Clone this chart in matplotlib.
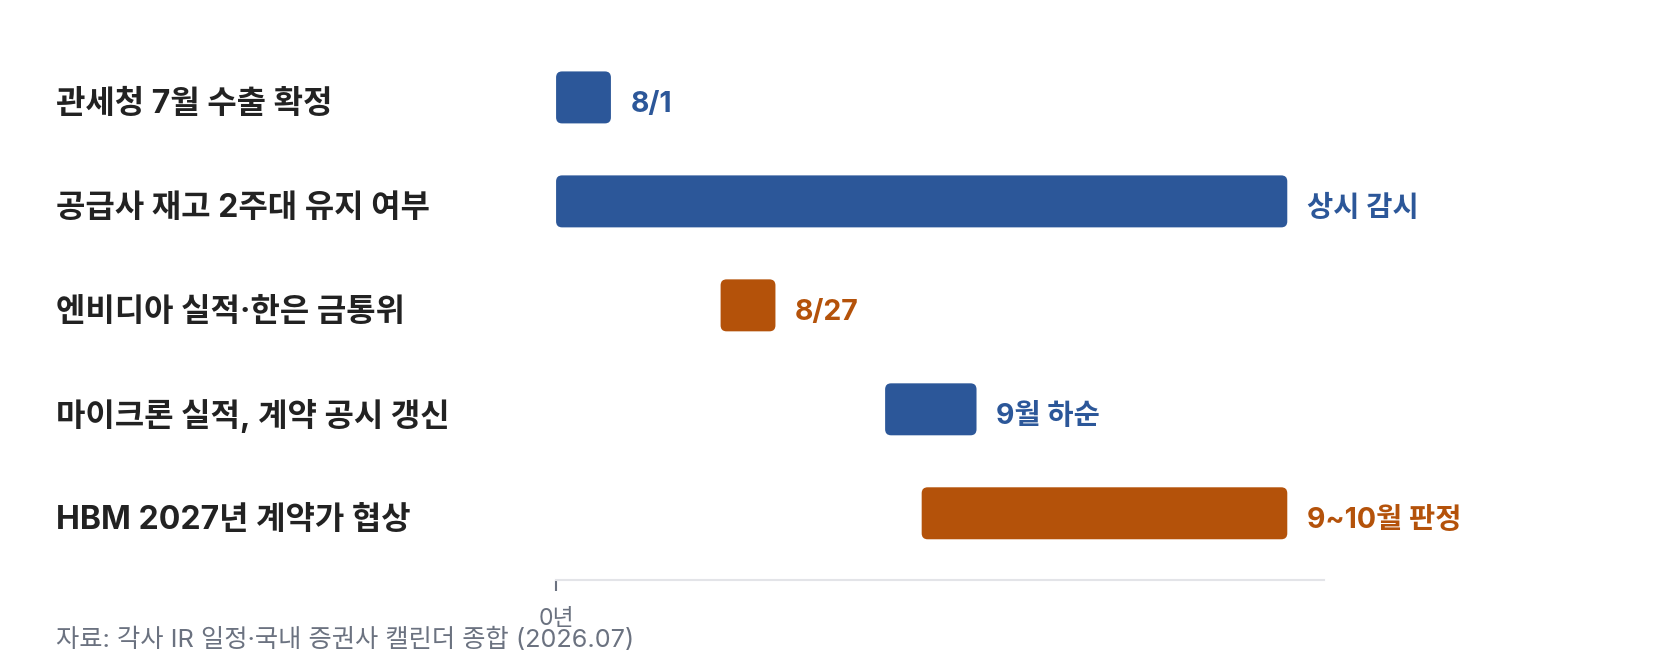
import matplotlib
matplotlib.use("Agg")
import matplotlib.pyplot as plt
from matplotlib.patches import FancyBboxPatch
import matplotlib.transforms as mtransforms

plt.rcParams['font.family'] = ['Inter', 'Noto Sans CJK KR', 'DejaVu Sans']

# ---- data ----
tasks = ["관세청 7월 수출 확정", "공급사 재고 2주대 유지 여부", "엔비디아 실적·한은 금통위",
         "마이크론 실적, 계약 공시 갱신", "HBM 2027년 계약가 협상"]
starts = [0, 0, 22.5, 45, 50]
durations = [7.5, 100, 7.5, 12.5, 50]
value_labels = ["8/1", "상시 감시", "8/27", "9월 하순", "9~10월 판정"]
groups = ["blue", "blue", "orange", "blue", "orange"]
x_ticks = [0]
x_tick_labels = ["0년"]
source = "자료: 각사 IR 일정·국내 증권사 캘린더 종합 (2026.07)"

colors = {"blue": "#2c5799", "orange": "#b4520a"}

fig = plt.figure(figsize=(16.8, 6.68), dpi=100)
ax = fig.add_axes([0.331, 0.132, 0.457, 0.800])

ypos = list(range(len(tasks)))
bars = ax.barh(ypos, durations, left=starts, height=0.5,
               color=[colors[g] for g in groups])

ax.set_xlim(0, max(s + d for s, d in zip(starts, durations)) * 1.05)
ax.set_ylim(4.64, -0.5)

# rounded corners
fig.canvas.draw()
xr = ax.get_xlim()[1] - ax.get_xlim()[0]
yr = abs(ax.get_ylim()[0] - ax.get_ylim()[1])
bbox = ax.get_window_extent()
xu_per_px = xr / bbox.width
yu_per_px = yr / bbox.height
r_px = 6
for b in bars:
    x0, y0 = b.get_x(), b.get_y()
    w, h = b.get_width(), b.get_height()
    p = FancyBboxPatch((x0, y0), w, h,
                       boxstyle=f"round,pad=0,rounding_size={r_px * xu_per_px}",
                       mutation_aspect=yu_per_px / xu_per_px,
                       facecolor=b.get_facecolor(), edgecolor="none")
    ax.add_patch(p)
    b.set_visible(False)

# value labels
for b, lab, g in zip(bars, value_labels, groups):
    ax.annotate(lab, xy=(b.get_x() + b.get_width(), b.get_y() + b.get_height() / 2),
                xytext=(14, -5), textcoords="offset points",
                ha="left", va="center", fontsize=20.5, fontweight="bold",
                color=colors[g])

# category labels
trans = mtransforms.blended_transform_factory(fig.transFigure, ax.transData)
trans = trans + mtransforms.ScaledTranslation(0, -5 / 72, fig.dpi_scale_trans)
for y, t in zip(ypos, tasks):
    ax.text(0.0332, y, t, transform=trans, ha="left", va="center",
            fontsize=23, fontweight="bold", color="#222222")

# axes styling
for s in ["top", "right", "left"]:
    ax.spines[s].set_visible(False)
ax.spines["bottom"].set_color("#e3e4e8")
ax.spines["bottom"].set_linewidth(1.5)
ax.set_yticks([])
ax.set_xticks(x_ticks)
ax.set_xticklabels(x_tick_labels)
ax.tick_params(axis="x", length=8, width=1.5, color="#6b7280",
               labelcolor="#6b7280", labelsize=16.5, pad=12)

fig.text(0.0332, 0.042, source, ha="left", va="center", fontsize=18.2, color="#6b7280")

fig.savefig("out.png", dpi=100, facecolor="white")
